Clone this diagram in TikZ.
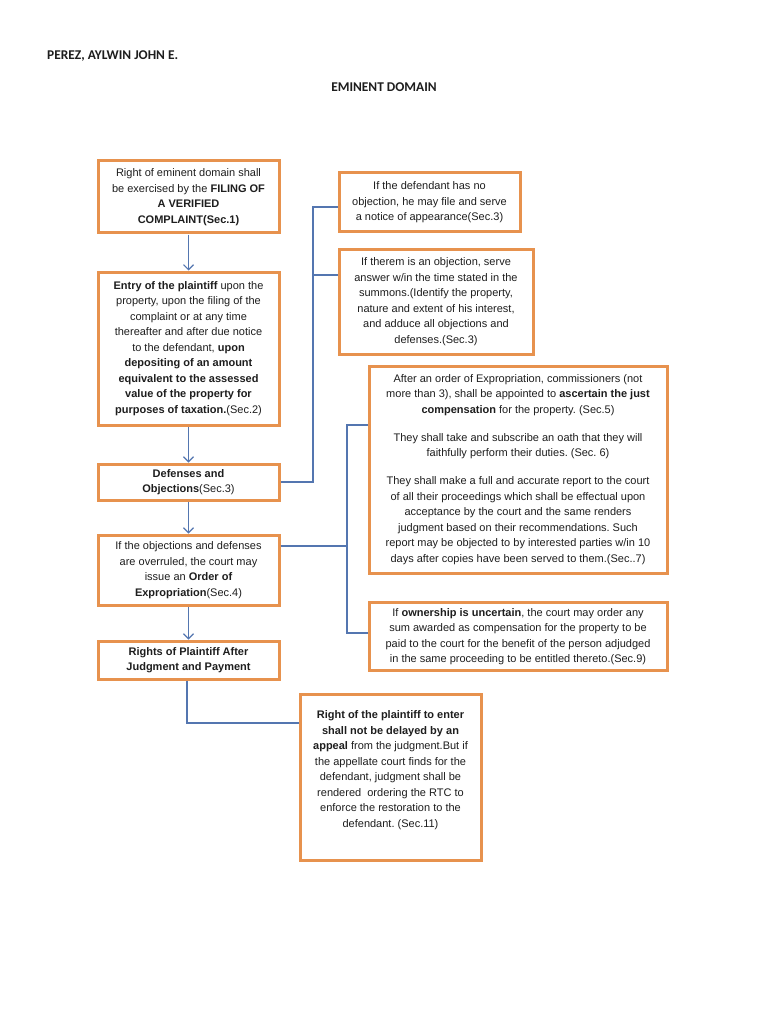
\documentclass[tikz,border=0pt]{standalone}
\usepackage{fontspec}
\setmainfont{Liberation Sans}
\newfontfamily\calib{Carlito}
\usetikzlibrary{arrows.meta}
\frenchspacing
\definecolor{boxor}{RGB}{231,146,78}
\definecolor{conblue}{RGB}{84,118,176}
\definecolor{txt}{RGB}{30,30,30}
\tikzset{
  box/.style={draw=boxor, line width=3pt, fill=white, align=center, inner sep=0pt,
    text=txt, font=\fontsize{11}{15.5}\selectfont},
  conn/.style={draw=conblue, line width=1.1pt},
  arr/.style={conn, -{Straight Barb[length=5pt,width=10pt,line width=1.1pt]}},
  hdr/.style={font=\calib\bfseries\fontsize{13.4}{15}\selectfont, text=txt, inner sep=0pt}
}
\begin{document}
\begin{tikzpicture}[x=1pt,y=-1pt]
\useasboundingbox[fill=white] (0,0) rectangle (768,1024);

\node[hdr, anchor=base west] (name) at (47,59.5) {PEREZ, AYLWIN JOHN E.};
\node[hdr, anchor=base] (title) at (384,92) {EMINENT DOMAIN};

% left column
\node[box, minimum width=181pt, minimum height=72pt] (b1) at (188.5,197)
 {Right of eminent domain shall\\ be exercised by the \textbf{FILING OF}\\ \textbf{A VERIFIED}\\ \textbf{COMPLAINT(Sec.1)}};
\node[box, minimum width=181pt, minimum height=153pt] (b2) at (188.5,348.5)
 {\textbf{Entry of the plaintiff} upon the\\ property, upon the filing of the\\ complaint or at any time\\ thereafter and after due notice\\ to the defendant, \textbf{upon}\\ \textbf{depositing of an amount}\\ \textbf{equivalent to the assessed}\\ \textbf{value of the property for}\\ \textbf{purposes of taxation.}(Sec.2)};
\node[box, minimum width=181pt, minimum height=36pt] (b3) at (188.5,482)
 {\textbf{Defenses and}\\ \textbf{Objections}(Sec.3)};
\node[box, minimum width=181pt, minimum height=70pt] (b4) at (188.5,570)
 {If the objections and defenses\\ are overruled, the court may\\ issue an \textbf{Order of}\\ \textbf{Expropriation}(Sec.4)};
\node[box, minimum width=181pt, minimum height=38pt] (b5) at (188.5,660)
 {\textbf{Rights of Plaintiff After}\\ \textbf{Judgment and Payment}};

% right column
\node[box, minimum width=181pt, minimum height=59pt] (r1) at (429.5,202.5)
 {If the defendant has no\\ objection, he may file and serve\\ a notice of appearance(Sec.3)};
\node[box, minimum width=194pt, minimum height=105pt] (r2) at (436,301.5)
 {If therem is an objection, serve\\ answer w/in the time stated in the\\ summons.(Identify the property,\\ nature and extent of his interest,\\ and adduce all objections and\\ defenses.(Sec.3)};
\node[box, minimum width=298pt, minimum height=207pt] (r3) at (518,469.5)
 {After an order of Expropriation, commissioners (not\\ more than 3), shall be appointed to \textbf{ascertain the just}\\ \textbf{compensation} for the property. (Sec.5)\\[12.5pt]
  They shall take and subscribe an oath that they will\\ faithfully perform their duties. (Sec. 6)\\[12.5pt]
  They shall make a full and accurate report to the court\\ of all their proceedings which shall be effectual upon\\ acceptance by the court and the same renders\\ judgment based on their recommendations. Such\\ report may be objected to by interested parties w/in 10\\ days after copies have been served to them.(Sec..7)};
\node[box, minimum width=298pt, minimum height=68pt] (r4) at (518,636.5)
 {If \textbf{ownership is uncertain}, the court may order any\\ sum awarded as compensation for the property to be\\ paid to the court for the benefit of the person adjudged\\ in the same proceeding to be entitled thereto.(Sec.9)};
\node[box, minimum width=181pt, minimum height=166pt] (r5) at (390.5,777)
 {\textbf{Right of the plaintiff to enter}\\ \textbf{shall not be delayed by an}\\ \textbf{appeal} from the judgment.But if\\ the appellate court finds for the\\ defendant, judgment shall be\\ rendered\ \ ordering the RTC to\\ enforce the restoration to the\\ defendant. (Sec.11)\\ \mbox{}};

% arrows down the left column
\draw[arr] (b1) -- (b2);
\draw[arr] (b2) -- (b3);
\draw[arr] (b3) -- (b4);
\draw[arr] (b4) -- (b5);

% bracket from defenses
\coordinate (j1) at (313,207);
\coordinate (j2) at (313,275);
\draw[conn] (b3.east) -| (j1) -- (r1.west |- j1);
\draw[conn] (j2) -- (r2.west |- j2);

% bracket from order of expropriation
\coordinate (k0) at (347,546);
\coordinate (k1) at (347,425);
\coordinate (k2) at (347,633);
\draw[conn] (k0 -| b4.east) -- (k0);
\draw[conn] (r3.west |- k1) -- (k1) -- (k2) -- (r4.west |- k2);

% from rights of plaintiff
\coordinate (m) at (187,723);
\draw[conn] (b5.south -| m) -- (m) -- (r5.west |- m);
\end{tikzpicture}
\end{document}
